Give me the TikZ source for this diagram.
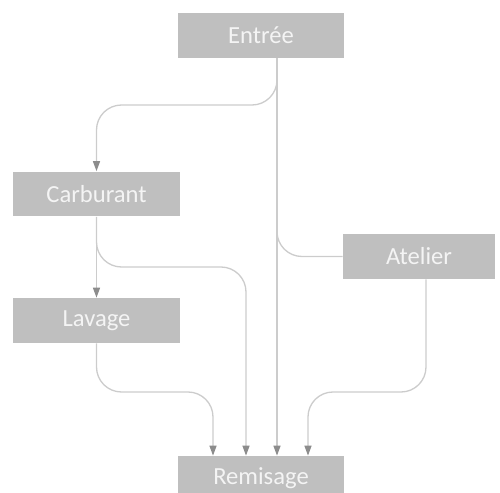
\documentclass[tikz,border=0pt]{standalone}
\usepackage{fontspec}
\setmainfont{Carlito}
\usetikzlibrary{arrows.meta,positioning}

\definecolor{boxgray}{HTML}{BFBFBF}
\definecolor{linegray}{HTML}{CCCCCC}
\definecolor{tipgray}{HTML}{8C8C8C}
\definecolor{textgray}{HTML}{F4F4F4}

\tikzset{
  stage/.style={fill=boxgray, text=textgray, minimum height=0.9cm,
    inner sep=0pt, font=\fontsize{14}{16}\selectfont},
  flow/.style={draw=linegray, line width=0.75pt, rounded corners=0.5cm},
  tip/.style={-{Triangle[length=2mm,width=1.4mm,color=tipgray]}},
}

\begin{document}
\begin{tikzpicture}[x=0.02cm,y=-0.02cm]
    \useasboundingbox (0,0) rectangle (500,493);

    \node[stage, minimum width=3.32cm] (entree) at (261,35.5) {Entrée} ;
    \node[stage, minimum width=3.34cm] (carb) at (96.5,194) {Carburant} ;
    \node[stage, minimum width=3.04cm] (atelier) at (419,256.5) {Atelier} ;
    \node[stage, minimum width=3.34cm] (lavage) at (96.5,320.5) {Lavage} ;
    \node[stage, minimum width=3.32cm] (remis) at (261,478.5) {Remisage} ;

    % exits and turning levels
    \coordinate (eout) at ([xshift=0.32cm]entree.south) ;
    \coordinate (aout) at ([xshift=0.14cm]atelier.south) ;
    \coordinate (lvlA) at (0,105) ;
    \coordinate (lvlB) at (0,267) ;
    \coordinate (lvlC) at (0,392) ;

    % from Entree
    \draw[flow, tip] (eout) |- (carb.north |- lvlA) -- (carb.north) ;
    \draw[flow] (eout) |- (atelier.west) ;
    \draw[flow, tip] (eout) -- (eout |- remis.north) ;

    % from Carburant
    \draw[flow, tip] (carb.south) -- (lavage.north) ;
    \draw[flow, tip] (carb.south) |- ([xshift=-0.3cm]remis.north |- lvlB)
        -- ([xshift=-0.3cm]remis.north) ;

    % from Lavage and Atelier
    \draw[flow, tip] (lavage.south) |- ([xshift=-0.96cm]remis.north |- lvlC)
        -- ([xshift=-0.96cm]remis.north) ;
    \draw[flow, tip] (aout) |- ([xshift=0.94cm]remis.north |- lvlC)
        -- ([xshift=0.94cm]remis.north) ;
\end{tikzpicture}
\end{document}
